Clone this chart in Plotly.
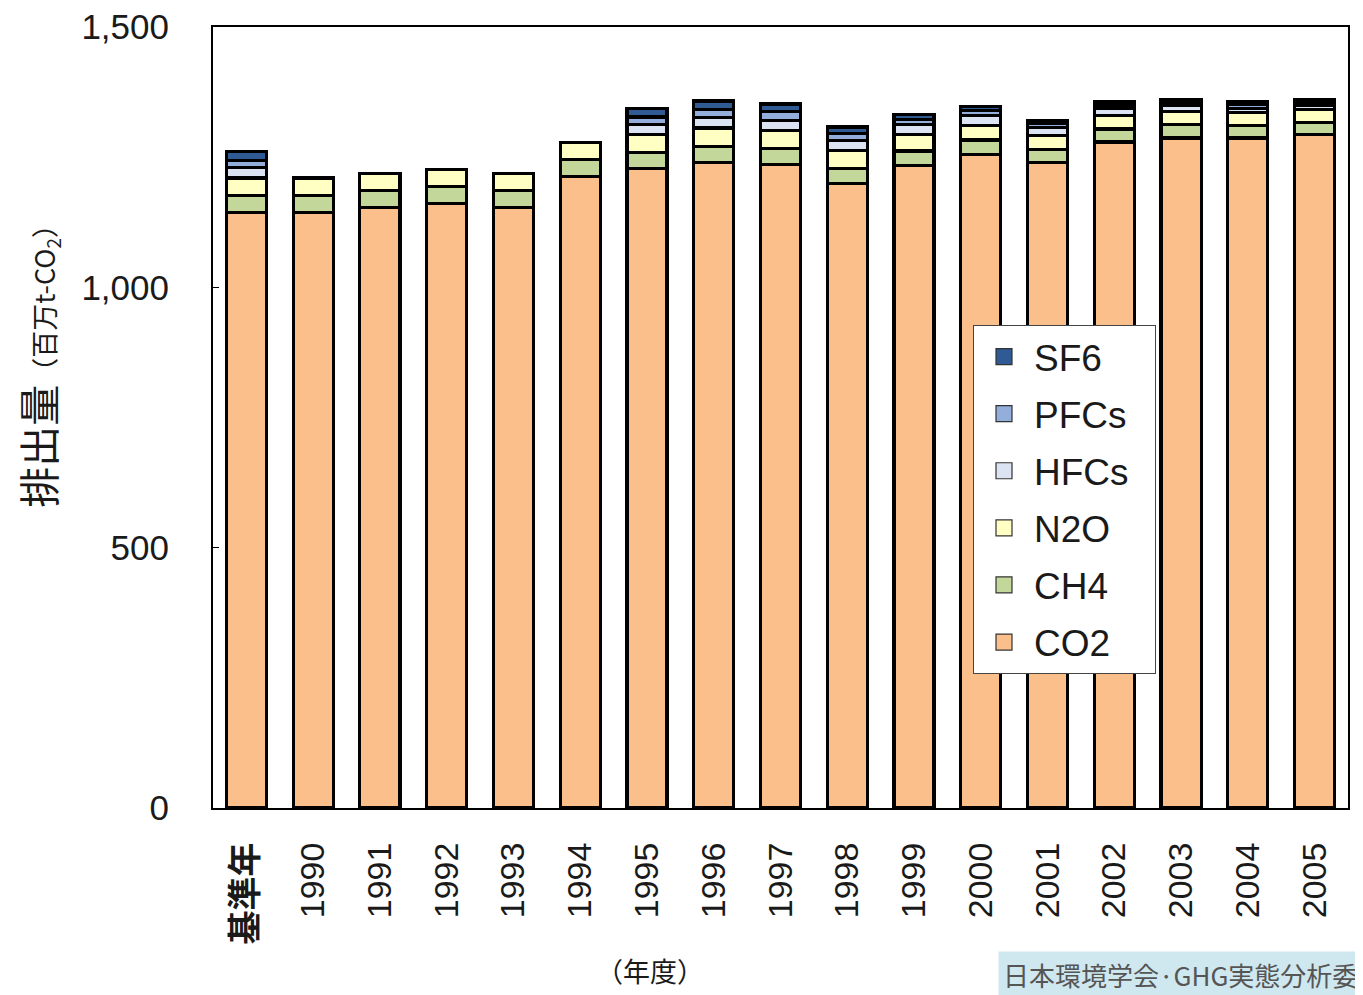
import plotly.graph_objects as go

categories = ["基準年", "1990", "1991", "1992", "1993", "1994", "1995", "1996", "1997",
              "1998", "1999", "2000", "2001", "2002", "2003", "2004", "2005"]
tick_labels = ["<b>基準年</b>"] + categories[1:]
co2 = [1144, 1144, 1153, 1161, 1154, 1213, 1228, 1240, 1236, 1200, 1234, 1255, 1239, 1279, 1287, 1287, 1293]
ch4 = [33, 33, 33, 33, 32, 32, 31, 31, 30, 29, 28, 28, 26, 25, 25, 24, 24]
n2o = [33, 33, 32, 32, 32, 33, 34, 35, 35, 34, 31, 28, 26, 26, 25, 25, 25]
hfcs = [20, 0, 0, 0, 0, 0, 20, 20, 20, 19, 20, 19, 16, 13, 12, 8, 7]
pfcs = [14, 0, 0, 0, 0, 0, 14, 15, 16, 13, 10, 10, 8, 7, 7, 7, 7]
sf6 = [17, 0, 0, 0, 0, 0, 17, 17, 15, 13, 9, 7, 6, 6, 5, 5, 5]

series = [
    ("CO2", co2, "#FBBF8C"),
    ("CH4", ch4, "#C4D79B"),
    ("N2O", n2o, "#FFFFC4"),
    ("HFCs", hfcs, "#DCE3F2"),
    ("PFCs", pfcs, "#93AEDA"),
    ("SF6", sf6, "#2F5A93"),
]

FONT = "Liberation Sans, Arial, Noto Sans CJK JP, sans-serif"
CJK = "Noto Sans CJK JP, sans-serif"

fig = go.Figure()
for name, vals, color in series:
    fig.add_trace(go.Bar(
        x=categories, y=vals, name=name, showlegend=False,
        marker=dict(color=color, line=dict(color="black", width=3.2)),
    ))
# legend entries (square swatches), top-to-bottom SF6 ... CO2
n = len(series)
for i, (name, vals, color) in enumerate(series):
    fig.add_trace(go.Scatter(
        x=[None], y=[None], mode="markers", name=name + "\u00a0\u00a0",
        legendrank=n - i, legendgroup=name,
        marker=dict(symbol="square", size=16, color=color,
                    line=dict(color="#333333", width=1.2)),
    ))

fig.update_layout(
    width=1355, height=987,
    barmode="stack", bargap=0.4,
    paper_bgcolor="white", plot_bgcolor="white",
    margin=dict(l=205, r=15, t=19, b=187, autoexpand=False),
    font=dict(family=FONT, size=30, color="#1a1a1a"),
    showlegend=True,
    legend=dict(
        traceorder="grouped", tracegroupgap=6,
        x=(973 - 213) / 1135, y=(808 - 325) / 781, xanchor="left", yanchor="top",
        bgcolor="white", bordercolor="#444", borderwidth=1,
        font=dict(family=FONT, size=37, color="#1a1a1a"),
        itemwidth=50, itemsizing="trace",
    ),
)
fig.update_yaxes(
    range=[0, 1500], tickvals=[0, 500, 1000, 1500],
    ticktext=["0", "500", "1,000", "1,500"],
    showgrid=False, zeroline=False, automargin=False,
    showline=True, linecolor="black", linewidth=2, mirror=True,
    ticks="inside", ticklen=6, tickcolor="black",
    ticklabelstandoff=35, ticklabeloverflow="allow",
    tickfont=dict(family=FONT, size=35, color="#1a1a1a"),
)
fig.update_xaxes(
    showgrid=False, showline=True, linecolor="black", linewidth=2, mirror=True,
    tickangle=-90, ticks="", ticklabelstandoff=19, automargin=False,
    tickmode="array", tickvals=categories, ticktext=tick_labels,
    tickfont=dict(family=FONT, size=34, color="#1a1a1a"),
)

fig.add_annotation(
    text='排出量<span style="font-size:27px">（百万t-CO<sub>2</sub>）</span>',
    xref="paper", yref="paper", x=-0.155, y=0.574,
    xanchor="center", yanchor="middle", textangle=-90, showarrow=False,
    font=dict(family=CJK, size=41, color="#1a1a1a"),
)
fig.add_annotation(
    text="（年度）", xref="paper", yref="paper", x=0.385, y=-0.208,
    xanchor="center", yanchor="middle", showarrow=False,
    font=dict(family=CJK, size=27, color="#1a1a1a"),
)
fig.add_annotation(
    text="日本環境学会·GHG実態分析委", xref="paper", yref="paper",
    x=1.0132, y=-0.213, xanchor="right", yanchor="middle", showarrow=False,
    bgcolor="#CFE7EF", borderpad=4,
    font=dict(family=CJK, size=26, color="#555555"),
)

fig.write_html("out.html")
